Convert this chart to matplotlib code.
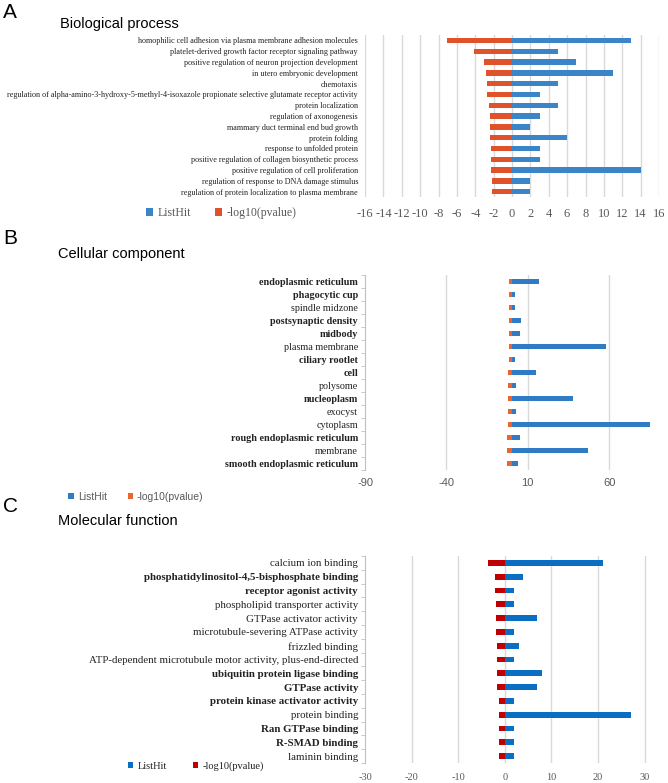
import matplotlib
matplotlib.use('Agg')
import matplotlib.pyplot as plt
import numpy as np

# ---- data ----
bp_terms = ['homophilic cell adhesion via plasma membrane adhesion molecules',
            'platelet-derived growth factor receptor signaling pathway',
            'positive regulation of neuron projection development',
            'in utero embryonic development',
            'chemotaxis',
            'regulation of alpha-amino-3-hydroxy-5-methyl-4-isoxazole propionate selective glutamate receptor activity',
            'protein localization',
            'regulation of axonogenesis',
            'mammary duct terminal end bud growth',
            'protein folding',
            'response to unfolded protein',
            'positive regulation of collagen biosynthetic process',
            'positive regulation of cell proliferation',
            'regulation of response to DNA damage stimulus',
            'regulation of protein localization to plasma membrane']
bp_hits = [13, 5, 7, 11, 5, 3, 5, 3, 2, 6, 3, 3, 14, 2, 2]
bp_logp = [7.1, 4.15, 3.05, 2.8, 2.72, 2.72, 2.47, 2.43, 2.37, 2.37, 2.3, 2.3, 2.28, 2.22, 2.2]

cc_terms = ['endoplasmic reticulum', 'phagocytic cup', 'spindle midzone',
            'postsynaptic density', 'midbody', 'plasma membrane', 'ciliary rootlet',
            'cell', 'polysome', 'nucleoplasm', 'exocyst', 'cytoplasm',
            'rough endoplasmic reticulum', 'membrane', 'smooth endoplasmic reticulum']
cc_bold = [True, True, False, True, True, False, True, True, False, True, False, False, True, False, True]
cc_hits = [17, 2, 2, 6, 5, 58, 2, 15, 3, 38, 3, 85, 5, 47, 4]
cc_logp = [1.3, 1.4, 1.4, 1.5, 1.6, 1.7, 1.8, 1.9, 2.0, 2.1, 2.2, 2.3, 2.5, 2.6, 3.0]

mf_terms = ['calcium ion binding', 'phosphatidylinositol-4,5-bisphosphate binding',
            'receptor agonist activity', 'phospholipid transporter activity',
            'GTPase activator activity', 'microtubule-severing ATPase activity',
            'frizzled binding', 'ATP-dependent microtubule motor activity, plus-end-directed',
            'ubiquitin protein ligase binding', 'GTPase activity',
            'protein kinase activator activity', 'protein binding', 'Ran GTPase binding',
            'R-SMAD binding', 'laminin binding']
mf_bold = [False, True, True, False, False, False, False, False, True, True, True, False, True, True, False]
mf_hits = [21, 4, 2, 2, 7, 2, 3, 2, 8, 7, 2, 27, 2, 2, 2]
mf_logp = [3.65, 2.2, 2.07, 1.93, 1.93, 1.8, 1.7, 1.6, 1.6, 1.6, 1.3, 1.3, 1.15, 1.15, 1.15]

W, H = 668, 783
fig = plt.figure(figsize=(W / 100, H / 100), dpi=100)

def box(left, top, right, bottom):
    return [left / W, 1 - bottom / H, (right - left) / W, (bottom - top) / H]

serif = 'Liberation Serif'
sans = 'Liberation Sans'
gridc = '#d9d9d9'
tickc = '#595959'

def panel(rect, terms, hits, logp, c1, c2, xlim, xticks, grid, bh, lsize, tfont, tsize, bold=None,
          spine=False, tpad=5):
    ax = fig.add_axes(rect)
    y = np.arange(len(terms))
    b1 = ax.barh(y, hits, height=bh, color=c1, zorder=3)
    b2 = ax.barh(y, -np.array(logp), height=bh, color=c2, zorder=3)
    ax.set_ylim(len(terms) - 0.5, -0.5)
    ax.set_xlim(*xlim)
    ax.set_xticks(xticks)
    ax.set_xticklabels([str(t) for t in xticks], family=tfont, fontsize=tsize, color=tickc)
    ax.tick_params(axis='x', length=0, pad=tpad)
    ax.set_yticks(y)
    ax.set_yticklabels(terms, family=serif, fontsize=lsize, color='#222222')
    if bold is not None:
        for lab, bd in zip(ax.get_yticklabels(), bold):
            if bd:
                lab.set_fontweight('bold')
    ax.tick_params(axis='y', length=0, pad=5)
    for g in grid:
        ax.axvline(g, color=gridc, lw=1, zorder=1)
    for s in ['top', 'right', 'bottom']:
        ax.spines[s].set_visible(False)
    if spine:
        ax.spines['left'].set_color('#bfbfbf')
        ax.set_yticks(np.arange(len(terms) + 1) - 0.5, minor=True)
        ax.tick_params(axis='y', which='minor', length=3, color='#bfbfbf', direction='out')
    else:
        ax.spines['left'].set_visible(False)
    return ax, b1, b2

# A: Biological process
ax, b1, b2 = panel(box(365, 35, 659, 197), bp_terms, bp_hits, bp_logp, '#3a84c8', '#e0532a',
                   (-16, 16), list(range(-16, 17, 2)), range(-16, 17, 2), 0.5, 5.85, serif, 9, tpad=8)
fig.legend([b1, b2], ['ListHit', '-log10(pvalue)'], loc='center', bbox_to_anchor=(221 / W, 1 - 213 / H),
           ncol=2, frameon=False, handlelength=0.6, handleheight=0.6, handletextpad=0.4, columnspacing=2.0,
           prop={'family': serif, 'size': 8.5}, labelcolor=tickc)
fig.text(3 / W, 1 - 12 / H, 'A', fontsize=15, family=sans, va='center')
fig.text(60 / W, 1 - 24 / H, 'Biological process', fontsize=10.5, family=sans, va='center')

# B: Cellular component
ax, b1, b2 = panel(box(365, 275, 658, 470), cc_terms, cc_hits, cc_logp, '#2f7bc4', '#e9672e',
                   (-90, 90), [-90, -40, 10, 60], [-40, 10, 60], 0.4, 7.3, sans, 8, bold=cc_bold,
                   spine=True, tpad=6)
fig.legend([b1, b2], ['ListHit', '-log10(pvalue)'], loc='center', bbox_to_anchor=(136 / W, 1 - 497 / H),
           ncol=2, frameon=False, handlelength=0.5, handleheight=0.5, handletextpad=0.4, columnspacing=2.0,
           prop={'family': sans, 'size': 7.5}, labelcolor=tickc)
fig.text(3 / W, 1 - 238 / H, 'B', fontsize=15, family=sans, va='center')
fig.text(58 / W, 1 - 254 / H, 'Cellular component', fontsize=10.5, family=sans, va='center')

# C: Molecular function
ax, b1, b2 = panel(box(365, 556, 654, 763), mf_terms, mf_hits, mf_logp, '#0a6fc2', '#c00000',
                   (-30, 32), [-30, -20, -10, 0, 10, 20, 30], [-20, -10, 0, 10, 20, 30], 0.42, 7.8,
                   serif, 7.5, bold=mf_bold, spine=True, tpad=7)
fig.legend([b1, b2], ['ListHit', '-log10(pvalue)'], loc='center', bbox_to_anchor=(196 / W, 1 - 766 / H),
           ncol=2, frameon=False, handlelength=0.5, handleheight=0.5, handletextpad=0.4, columnspacing=2.5,
           prop={'family': serif, 'size': 7.5}, labelcolor='#222222')
fig.text(3 / W, 1 - 507 / H, 'C', fontsize=15, family=sans, va='center')
fig.text(58 / W, 1 - 521 / H, 'Molecular function', fontsize=10.5, family=sans, va='center')

fig.savefig('out.png', dpi=100)
